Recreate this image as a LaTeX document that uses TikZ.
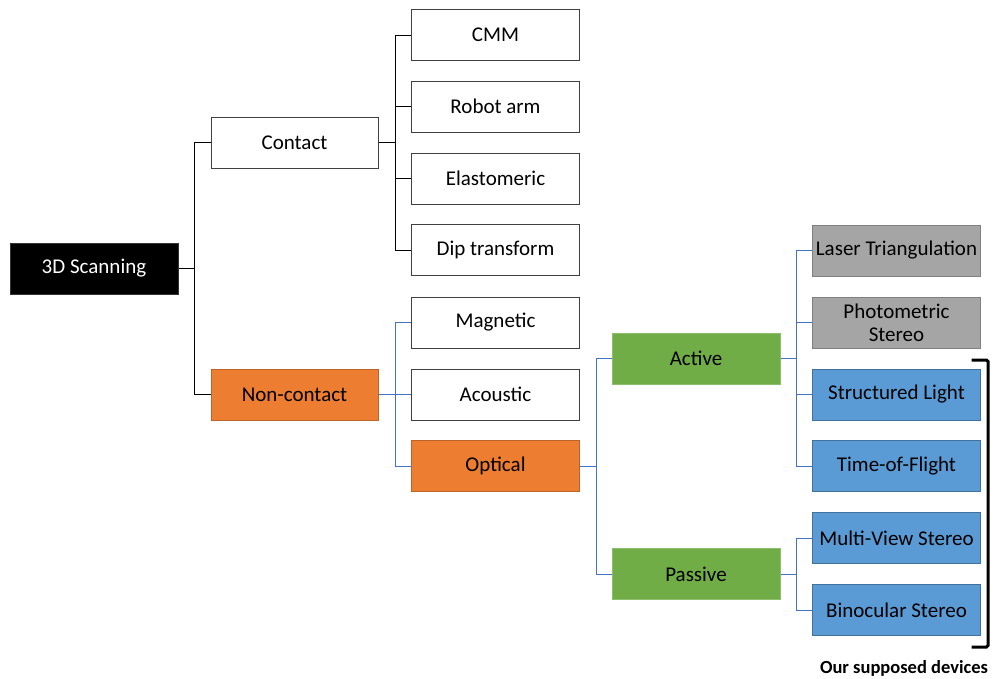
\documentclass[tikz,border=0pt]{standalone}
\usepackage{fontspec}
\setmainfont{Carlito}
\definecolor{orangefill}{RGB}{237,125,49}
\definecolor{orangeline}{RGB}{190,100,40}
\definecolor{greenfill}{RGB}{112,173,71}
\definecolor{greenline}{RGB}{140,190,110}
\definecolor{grayfill}{RGB}{165,165,165}
\definecolor{grayline}{RGB}{128,128,128}
\definecolor{bluefill}{RGB}{91,155,213}
\definecolor{blueline}{RGB}{65,113,156}
\definecolor{linkblue}{RGB}{68,114,196}
\begin{document}
\begin{tikzpicture}[x=1pt,y=-1pt,
  box/.style={draw=#1, line width=1pt, minimum width=168pt, minimum height=51pt,
    inner sep=1pt, align=center, font=\fontsize{21}{23}\selectfont},
  plain/.style={box=black!75, fill=white},
  rootbox/.style={box=black!80, fill=black, text=white},
  orangebox/.style={box=orangeline, fill=orangefill},
  greenbox/.style={box=greenline, fill=greenfill},
  graybox/.style={box=grayline, fill=grayfill},
  bluebox/.style={box=blueline, fill=bluefill},
  blink/.style={draw=black, line width=1pt},
  ulink/.style={draw=linkblue, line width=1pt}]
\useasboundingbox (0,0) rectangle (994,678);

% trunk positions of the elbow connectors
\coordinate (t1) at (194,0);
\coordinate (t2) at (395,0);
\coordinate (t3) at (596,0);
\coordinate (t4) at (796,0);

% level 0 and 1
\node[rootbox] (root) at (94,268.5) {3D Scanning};
\node[plain, minimum width=167pt] (contact) at (294.5,142.5) {Contact};
\node[orangebox, minimum width=167pt] (noncontact) at (294.5,394.5) {Non-contact};

% contact methods
\node[plain] (cmm) at (495.5,35) {CMM};
\node[plain] (robot) at (495.5,106.5) {Robot arm};
\node[plain] (elast) at (495.5,178.5) {Elastomeric};
\node[plain] (dip) at (495.5,250) {Dip transform};

% non-contact methods
\node[plain] (magnetic) at (495.5,322.5) {Magnetic};
\node[plain] (acoustic) at (495.5,394.5) {Acoustic};
\node[orangebox] (optical) at (495.5,466) {Optical};

% optical methods
\node[greenbox] (active) at (696,358.5) {Active};
\node[greenbox] (passive) at (696,574) {Passive};

% techniques
\node[graybox] (laser) at (896.5,250.5) {Laser Triangulation};
\node[graybox] (photo) at (896.5,322.5) {Photometric\\Stereo};
\node[bluebox] (struct) at (896.5,394.5) {Structured Light};
\node[bluebox] (tof) at (896.5,466) {Time-of-Flight};
\node[bluebox] (mvs) at (896.5,538) {Multi-View Stereo};
\node[bluebox] (bino) at (896.5,610) {Binocular Stereo};

% connectors
\foreach \c in {contact,noncontact}
  \path[blink] (root.east) -- (root.east -| t1) |- (\c.west);
\foreach \c in {cmm,robot,elast,dip}
  \path[blink] (contact.east) -- (contact.east -| t2) |- (\c.west);
\foreach \c in {magnetic,acoustic,optical}
  \path[ulink] (noncontact.east) -- (noncontact.east -| t2) |- (\c.west);
\foreach \c in {active,passive}
  \path[ulink] (optical.east) -- (optical.east -| t3) |- (\c.west);
\foreach \c in {laser,photo,struct,tof}
  \path[ulink] (active.east) -- (active.east -| t4) |- (\c.west);
\foreach \c in {mvs,bino}
  \path[ulink] (passive.east) -- (passive.east -| t4) |- (\c.west);

% bracket and its label
\draw[line width=3pt, rounded corners=1.5pt] (971.5,360) -- (988,360) -- (988,647) -- (971.5,647);
\node[font=\fontsize{18.5}{22}\selectfont\bfseries] (devices) at (904,668) {Our supposed devices};
\end{tikzpicture}
\end{document}
